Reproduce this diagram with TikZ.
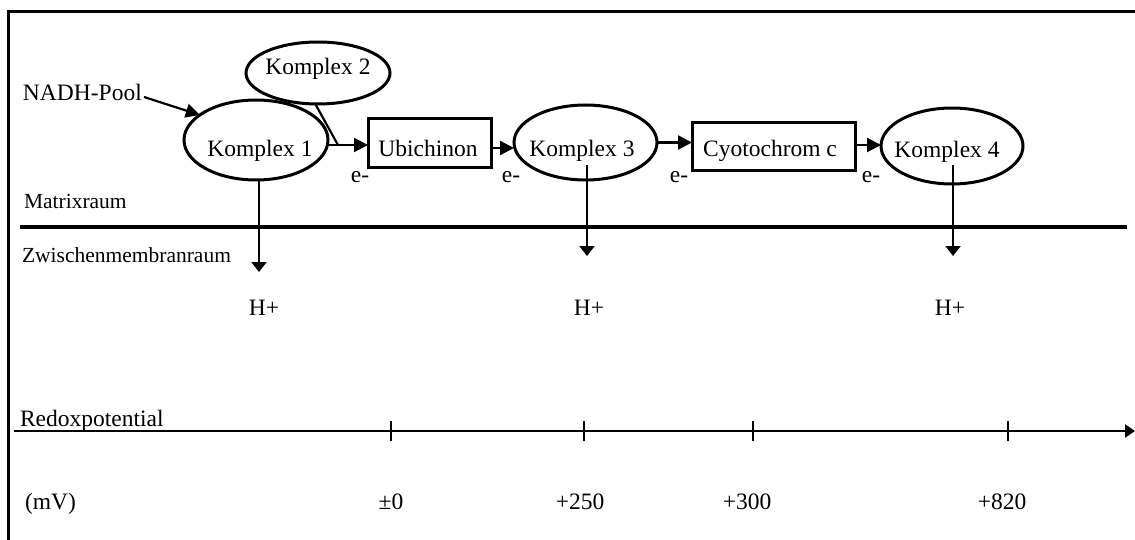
\documentclass[tikz,border=0pt]{standalone}
\usepackage{fontspec}
\setmainfont{Liberation Serif}
\usetikzlibrary{arrows.meta,shapes.geometric,calc}
\begin{document}
\begin{tikzpicture}[x=1pt,y=-1pt,
  every node/.style={inner sep=0pt,outer sep=0pt},
  big/.style={font=\fontsize{23.5}{28}\selectfont},
  small/.style={font=\fontsize{21.5}{26}\selectfont},
  ell/.style={draw,line width=3pt,ellipse,minimum width=#1},
  boxnode/.style={draw,line width=3pt,rectangle},
  conn/.style={line width=2.2pt},
  harr/.style={line width=2.2pt,-{Triangle[length=14pt,width=14pt]}},
  varr/.style={line width=2.2pt,-{Triangle[length=10pt,width=15pt]}},
  axarr/.style={line width=2.4pt,-{Triangle[length=10pt,width=13pt]}}
]
\useasboundingbox (0,0) rectangle (1135,540);
% frame
\draw[line width=3pt] (8,541) -- (8,12) -- (1136,12);

% shapes
\node[ell=144pt,minimum height=80pt] (k1) at (256,140) {};
\node[ell=144pt,minimum height=62pt] (k2) at (318,73) {};
\node[boxnode,minimum width=123pt,minimum height=49pt] (ub) at (429.5,143.5) {};
\node[ell=143pt,minimum height=75pt] (k3) at (585.5,142.5) {};
\node[boxnode,minimum width=163pt,minimum height=48pt] (cy) at (773.5,147) {};
\node[ell=142pt,minimum height=76pt] (k4) at (952,146) {};

% texts
\node[big,anchor=base] (tk1) at (260,157) {Komplex 1};
\node[big,anchor=base] (tk2) at (318,75) {Komplex 2};
\node[big,anchor=base] (tub) at (428,157) {Ubichinon};
\node[big,anchor=base] (tk3) at (582,157) {Komplex 3};
\node[big,anchor=base] (tcy) at (770,157) {Cyotochrom c};
\node[big,anchor=base] (tk4) at (947,158) {Komplex 4};
\node[big,anchor=base west] (nadh) at (23,101) {NADH-Pool};
\node[small,anchor=base west] (matrix) at (24,209) {Matrixraum};
\node[small,anchor=base west] (zwm) at (22,262) {Zwischenmembranraum};

\node[big,anchor=base] (e1) at (360,183) {e-};
\node[big,anchor=base] (e2) at (511,183) {e-};
\node[big,anchor=base] (e3) at (679,183) {e-};
\node[big,anchor=base] (e4) at (871,183) {e-};

\node[big,anchor=base] (h1) at (264,315) {H+};
\node[big,anchor=base] (h3) at (589,315) {H+};
\node[big,anchor=base] (h4) at (950,315) {H+};

% electron flow
\coordinate (n0) at (144,97);
\draw[harr] (n0) -- (k1.156);
\coordinate (j) at (338,145);
\draw[harr] (k1.east |- j) -- (j -| ub.west);
\draw[conn] (k2.265) -- (j);
\draw[harr] (ub.east |- 0,148) -- (k3.west |- 0,148);
\draw[harr] (k3.east) -- (k3.east -| cy.west);
\draw[harr] (cy.east |- 0,145) -- (k4.west |- 0,145);

% membrane
\coordinate (m0) at (20,227);
\coordinate (m1) at (1127,227);
\draw[line width=4.5pt] (m0) -- (m1);

% proton arrows
\coordinate (p1) at (259,272);
\coordinate (p3) at (587,256);
\coordinate (p4) at (953,256);
\draw[varr] (k1.south -| p1) -- (p1);
\draw[varr] ($(k3.center)+(1.5,23)$) -- (p3);
\draw[varr] ($(k4.center)+(1,19)$) -- (p4);

% redox axis
\coordinate (a0) at (14,431);
\coordinate (a1) at (1135,431);
\draw[axarr] (a0) -- (a1);
\node[big,anchor=base west] (redox) at (20,426) {Redoxpotential};
\foreach \x in {391,584,753,1008}{
  \draw[line width=2.2pt] (\x,421) -- (\x,441);
}
\node[big,anchor=base west] (mv) at (25,509) {(mV)};
\node[big,anchor=base] (l0) at (391,509) {±0};
\node[big,anchor=base] (l1) at (580,509) {+250};
\node[big,anchor=base] (l2) at (747,509) {+300};
\node[big,anchor=base] (l3) at (1002,509) {+820};
\end{tikzpicture}
\end{document}
